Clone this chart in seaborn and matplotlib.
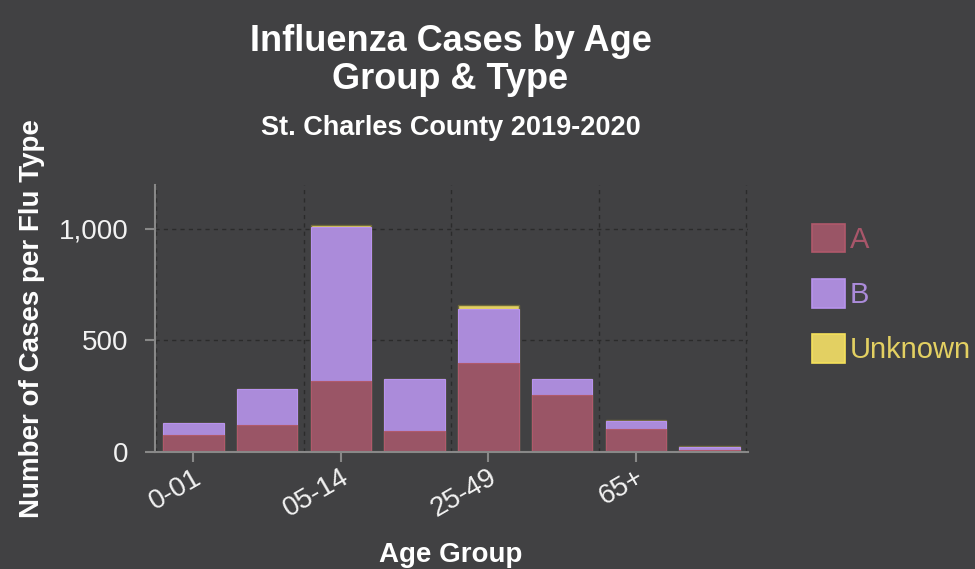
import matplotlib
matplotlib.use("Agg")
import matplotlib.pyplot as plt
import matplotlib.patches as mpatches
import seaborn as sns
import pandas as pd

# values
age_groups = ["0-01", "02-04", "05-14", "15-24", "25-49", "50-64", "65+", "Unknown"]
type_a = [76, 121, 319, 95, 399, 255, 103, 10]
type_b = [54, 161, 688, 231, 242, 73, 37, 11]
type_unknown = [2, 2, 9, 1, 16, 1, 2, 4]

bg = "#414143"
colors = {"A": "#9a5566", "B": "#ab8bda", "Unknown": "#e3d062"}
edges = {"A": "#b0596b", "B": "#b893ee", "Unknown": "#6f6a3c"}

df = pd.DataFrame({"age": age_groups, "A": type_a, "B": type_b, "Unknown": type_unknown})
df["AB"] = df["A"] + df["B"]
df["total"] = df["AB"] + df["Unknown"]

sns.set_style("dark")
plt.rcParams["font.family"] = ["Liberation Sans", "DejaVu Sans"]

fig = plt.figure(figsize=(9.75, 5.69), dpi=100, facecolor=bg)
ax = fig.add_axes([0.159, 0.2056, 0.608, 0.469])
ax.set_facecolor(bg)

# stacked bars drawn as cumulative layers
sns.barplot(data=df, x="age", y="total", color=colors["Unknown"], width=0.82,
            saturation=1, edgecolor=edges["Unknown"], linewidth=1, ax=ax)
sns.barplot(data=df, x="age", y="AB", color=colors["B"], width=0.82,
            saturation=1, edgecolor=edges["B"], linewidth=0.8, ax=ax)
sns.barplot(data=df, x="age", y="A", color=colors["A"], width=0.82,
            saturation=1, edgecolor=edges["A"], linewidth=0.8, ax=ax)

ax.set_xlim(-0.52, 7.52)
ax.set_ylim(0, 1195)
ax.set_yticks([0, 500, 1000])
ax.set_yticklabels(["0", "500", "1,000"])
ax.set_xticks([0, 2, 4, 6])
ax.set_xticklabels(age_groups[::2], rotation=30, ha="right", rotation_mode="anchor")
ax.set_xticks([-0.5, 1.5, 3.5, 5.5, 7.5], minor=True)
ax.tick_params(axis="both", which="major", colors="#888888", labelcolor="#f2f2f2",
               labelsize=20, length=7, width=1.5, direction="out",
               bottom=True, left=True)
ax.tick_params(axis="y", pad=12)
ax.tick_params(axis="x", which="major", pad=2)
ax.tick_params(axis="x", which="minor", length=0)
ax.grid(False)
ax.yaxis.grid(True, color="#2b2b2b", linestyle=(0, (3, 3)), linewidth=1)
ax.xaxis.grid(True, which="minor", color="#2b2b2b", linestyle=(0, (3, 3)), linewidth=1)
ax.set_axisbelow(True)

for side in ["top", "right"]:
    ax.spines[side].set_visible(False)
for side in ["left", "bottom"]:
    ax.spines[side].set_visible(True)
    ax.spines[side].set_color("#888888")
    ax.spines[side].set_linewidth(1.5)

ax.set_xlabel("")
ax.set_ylabel("")
fig.text(0.033, 0.441, "Number of Cases per Flu Type", rotation=90, ha="center", va="center",
         fontsize=20, fontweight="bold", color="white")
fig.text(0.462, 0.025, "Age Group", ha="center", va="center",
         fontsize=20, fontweight="bold", color="white")
fig.text(0.462, 0.894, "Influenza Cases by Age\nGroup & Type", ha="center", va="center",
         fontsize=26, fontweight="bold", color="white", linespacing=1.12)
fig.text(0.462, 0.775, "St. Charles County 2019-2020", ha="center", va="center",
         fontsize=19.5, fontweight="bold", color="white")

handles = [mpatches.Patch(facecolor=colors[k], edgecolor=edges[k] if k != "Unknown" else "#f5e05a",
                          linewidth=1.2, label=k) for k in ["A", "B", "Unknown"]]
leg = ax.legend(handles=handles, loc="upper left", bbox_to_anchor=(1.088, 0.9),
                frameon=False, fontsize=21, handlelength=1.15, handleheight=1.15,
                handletextpad=0.15, labelspacing=0.85, borderaxespad=0)
for txt, k in zip(leg.get_texts(), ["A", "B", "Unknown"]):
    txt.set_color(colors[k] if k != "A" else "#a8566a")

fig.savefig("out.png", dpi=100, facecolor=bg)
